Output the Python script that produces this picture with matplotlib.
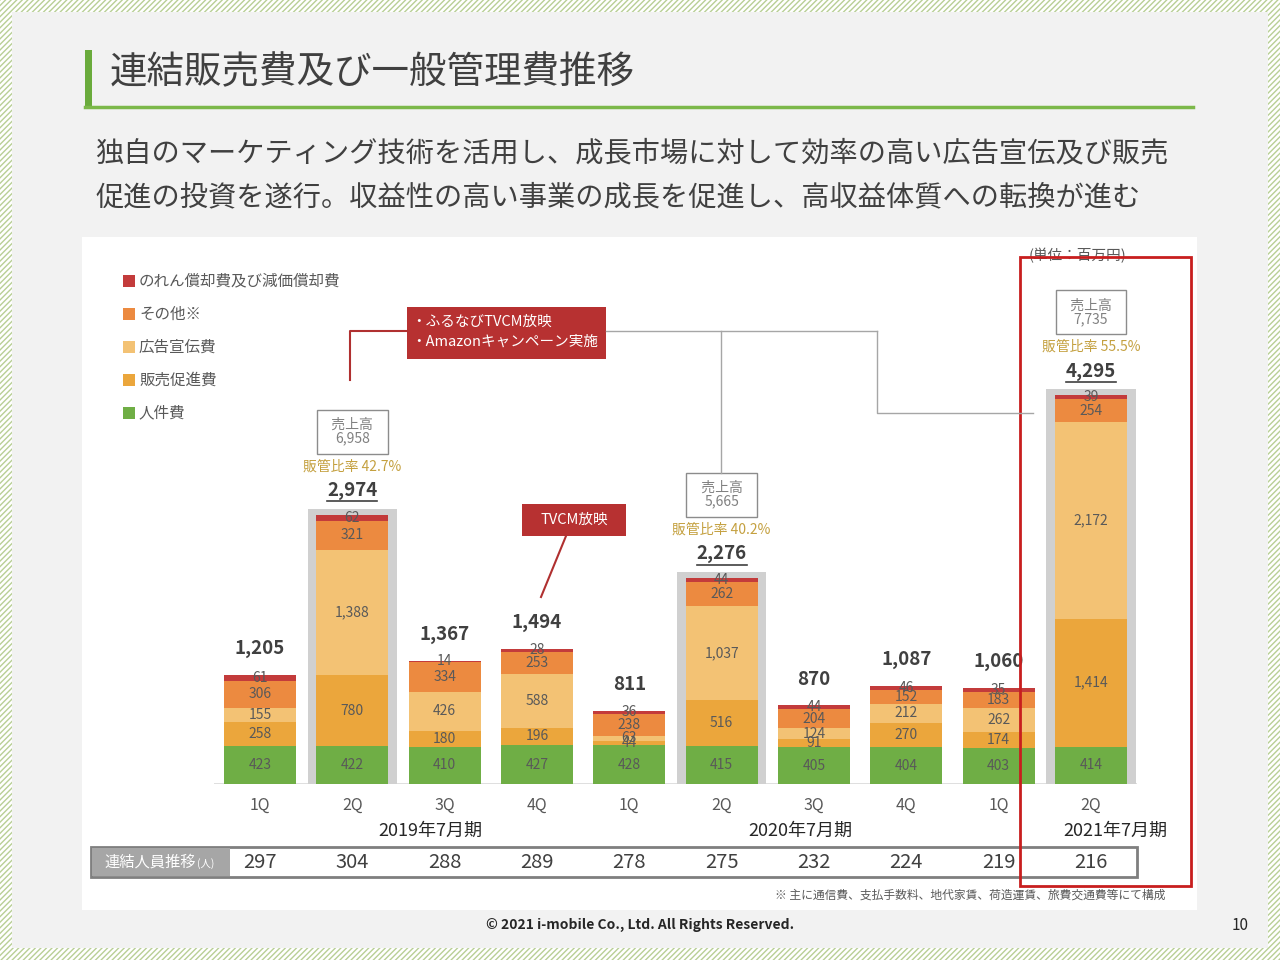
import numpy as np
import matplotlib
matplotlib.use('Agg')
import matplotlib.pyplot as plt
import matplotlib.transforms as mtransforms
from matplotlib.patches import Rectangle

plt.rcParams['font.family'] = ['Noto Sans CJK JP', 'DejaVu Sans']
plt.rcParams['hatch.linewidth'] = 1.0

# データ (単位：百万円)
quarters = ['1Q', '2Q', '3Q', '4Q', '1Q', '2Q', '3Q', '4Q', '1Q', '2Q']
years = ['2019年7月期', '2020年7月期', '2021年7月期']
jinken = [423, 422, 410, 427, 428, 415, 405, 404, 403, 414]       # 人件費
hansoku = [258, 780, 180, 196, 44, 516, 91, 270, 174, 1414]      # 販売促進費
koukoku = [155, 1388, 426, 588, 63, 1037, 124, 212, 262, 2172]   # 広告宣伝費
sonota = [306, 321, 334, 253, 238, 262, 204, 152, 183, 254]      # その他※
noren = [61, 62, 14, 28, 36, 44, 44, 46, 35, 39]                 # のれん償却費及び減価償却費
totals = [1205, 2974, 1367, 1494, 811, 2276, 870, 1087, 1060, 4295]
hl_idx = [1, 5, 9]
sales = [6958, 5665, 7735]
ratio = [42.7, 40.2, 55.5]
staff = [297, 304, 288, 289, 278, 275, 232, 224, 219, 216]

series = [jinken, hansoku, koukoku, sonota, noren]
names = ['人件費', '販売促進費', '広告宣伝費', 'その他※', 'のれん償却費及び減価償却費']
colors = ['#6fae45', '#eba63c', '#f3c274', '#ec8a40', '#c33b3b']

W, H = 1280, 960
fig = plt.figure(figsize=(12.8, 9.6), dpi=100)

# 背景 (ピクセル座標)
bg = fig.add_axes([0, 0, 1, 1], zorder=0)
bg.set_xlim(0, W); bg.set_ylim(H, 0); bg.axis('off')
bg.add_patch(Rectangle((0, 0), W, H, fc='white', ec='#b8cf95', hatch='//////', lw=0))
bg.add_patch(Rectangle((12, 12), W - 24, H - 24, fc='#f2f2f2', lw=0))
bg.add_patch(Rectangle((82, 237), 1115, 673, fc='white', lw=0))

# タイトル
bg.add_patch(Rectangle((85, 50), 7, 58, fc='#6aab3c', lw=0))
bg.plot([85, 1193], [107, 107], color='#7cb84a', lw=2.5)
bg.text(110, 73, '連結販売費及び一般管理費推移', fontsize=27, color='#404040', va='center')
bg.text(95, 153, '独自のマーケティング技術を活用し、成長市場に対して効率の高い広告宣伝及び販売',
        fontsize=20.3, color='#404040', va='center')
bg.text(95, 197, '促進の投資を遂行。収益性の高い事業の成長を促進し、高収益体質への転換が進む',
        fontsize=20.3, color='#404040', va='center')

# 凡例
for k, yy in enumerate([281, 314, 347, 380, 413]):
    j = 4 - k
    bg.add_patch(Rectangle((123, yy - 6), 12, 12, fc=colors[j], lw=0))
    bg.text(139, yy, names[j], fontsize=11.2, color='#595959', va='center')

bg.text(1078, 256, '(単位：百万円)', fontsize=10.5, color='#595959', ha='center', va='center')

# 年度ラベル
for xx, t in zip([430, 800, 1115], years):
    bg.text(xx, 831, t, fontsize=13, color='#262626', ha='center', va='center')

# 人員テーブル
bg.add_patch(Rectangle((91, 847), 1046, 30, fc='white', ec='#7f7f7f', lw=2))
bg.add_patch(Rectangle((92, 848), 138, 28, fc='#a6a6a6', lw=0))
bg.text(104, 862, '連結人員推移', fontsize=11, color='white', va='center')
bg.text(197, 864, '(人)', fontsize=7.5, color='white', va='center')

bg.text(1165, 895, '※ 主に通信費、支払手数料、地代家賃、荷造運賃、旅費交通費等にて構成',
        fontsize=8.5, color='#595959', ha='right', va='center')
bg.text(640, 925, '© 2021 i-mobile Co., Ltd. All Rights Reserved.', fontsize=10,
        fontweight='bold', color='#262626', ha='center', va='center')
bg.text(1240, 925, '10', fontsize=11, color='#262626', ha='center', va='center')

# グラフ本体
x = np.arange(len(quarters))
ax = fig.add_axes([213.8 / W, (H - 784) / H, 923.4 / W, 544 / H], zorder=2)
ax.patch.set_alpha(0)
ax.set_xlim(-0.5, 9.5)
ax.set_ylim(0, 544 / 0.0905)
for s in ax.spines.values():
    s.set_visible(False)
ax.set_yticks([])
ax.set_xticks(x)
ax.set_xticklabels(quarters, fontsize=11.5, color='#595959')
ax.tick_params(axis='x', length=0, pad=9)
ax.axhline(0, color='#d9d9d9', lw=1.2, zorder=0.5)

# 強調の灰色枠
for i in hl_idx:
    ax.bar(i, totals[i] + 66 + 44, bottom=-44, width=0.965, color='#d0d0d0', zorder=1)

bottom = np.zeros(len(x))
for vals, c in zip(series, colors):
    vals = np.array(vals)
    ax.bar(x, vals, bottom=bottom, width=0.78, color=c, zorder=2)
    for i in x:
        ax.text(i, bottom[i] + vals[i] / 2, f'{vals[i]:,}', ha='center', va='center',
                fontsize=10, color='#595959', zorder=3)
    bottom += vals

for i in x:
    top = bottom[i]
    if i in hl_idx:
        k = hl_idx.index(i)
        ax.annotate(f'{totals[i]:,}', (i, top), xytext=(0, 17.5), textcoords='offset points',
                    ha='center', va='center', fontsize=13.5, fontweight='bold', color='#404040')
        ax.plot([i - 0.27, i + 0.27], [top + 150, top + 150], color='#404040', lw=1.2, zorder=3)
        ax.annotate(f'販管比率 {ratio[k]}%', (i, top), xytext=(0, 35), textcoords='offset points',
                    ha='center', va='center', fontsize=10, color='#c4a03f')
        ax.annotate(f'  売上高  \n{sales[k]:,}', (i, top), xytext=(0, 60), textcoords='offset points',
                    ha='center', va='center', fontsize=10, color='#808080', linespacing=0.95,
                    bbox=dict(boxstyle='square,pad=0.6', fc='white', ec='#8c8c8c', lw=1))
    else:
        ax.annotate(f'{totals[i]:,}', (i, top), xytext=(0, 19), textcoords='offset points',
                    ha='center', va='center', fontsize=13.5, fontweight='bold', color='#404040')

# テーブルの数値
tr = mtransforms.blended_transform_factory(ax.transData, fig.transFigure)
for i in x:
    ax.text(i, (H - 862) / H, f'{staff[i]}', transform=tr,
            ha='center', va='center', fontsize=14.5, color='#404040')

# 吹き出しと赤枠 (前面)
fg = fig.add_axes([0, 0, 1, 1], zorder=3)
fg.set_xlim(0, W); fg.set_ylim(H, 0); fg.axis('off'); fg.patch.set_alpha(0)
fg.plot([877, 877, 1033], [331, 413, 413], color='#a6a6a6', lw=1)
fg.plot([606, 877], [331, 331], color='#a6a6a6', lw=1)
fg.plot([721, 721], [331, 473], color='#a6a6a6', lw=1)
fg.plot([407, 350, 350], [331, 331, 380], color='#b03030', lw=1.5)
fg.add_patch(Rectangle((407, 307), 199, 52, fc='#b73131', lw=0))
fg.text(411, 322, '・ふるなびTVCM放映', fontsize=10.5, color='white', va='center')
fg.text(411, 342, '・Amazonキャンペーン実施', fontsize=10.5, color='white', va='center')
fg.plot([566, 541], [536, 597], color='#b03030', lw=1.5)
fg.add_patch(Rectangle((522, 504), 104, 32, fc='#b73131', lw=0))
fg.text(574, 520, 'TVCM放映', fontsize=10.5, color='white', ha='center', va='center')
fg.add_patch(Rectangle((1020, 257), 171, 629, fc='none', ec='#c81e1e', lw=2))

fig.savefig('out.png', dpi=100)
